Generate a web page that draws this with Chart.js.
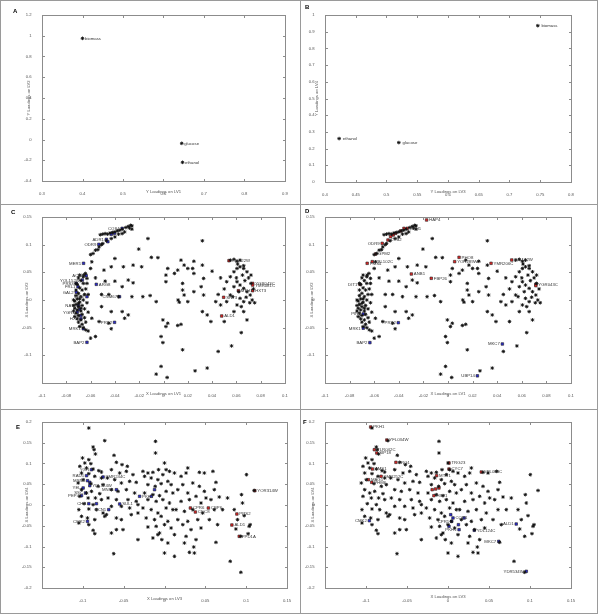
<!DOCTYPE html>
<html><head><meta charset="utf-8">
<script src="https://cdn.jsdelivr.net/npm/chart.js@4.4.1/dist/chart.umd.min.js"></script>
<style>
html,body{margin:0;padding:0;background:#fff;}
#fig{position:relative;width:600px;height:615px;overflow:hidden;}
.cell{position:absolute;width:300px;height:205px;}
.ln{position:absolute;background:#9a9a9a;}
.lt{position:absolute;font:bold 6px "Liberation Sans",Arial,sans-serif;color:#000;}
</style></head><body>
<div id="fig">
  <canvas id="cA" class="cell" width="300" height="205" style="left:0;top:0"></canvas>
  <canvas id="cB" class="cell" width="300" height="205" style="left:300px;top:0"></canvas>
  <canvas id="cC" class="cell" width="300" height="205" style="left:0;top:205px"></canvas>
  <canvas id="cD" class="cell" width="300" height="205" style="left:300px;top:205px"></canvas>
  <canvas id="cE" class="cell" width="300" height="205" style="left:0;top:410px"></canvas>
  <canvas id="cF" class="cell" width="300" height="205" style="left:300px;top:410px"></canvas>
  <div class="ln" style="left:0;top:0;width:598px;height:1px"></div>
  <div class="ln" style="left:0;top:0;width:1px;height:614px"></div>
  <div class="ln" style="left:597px;top:0;width:1px;height:614px"></div>
  <div class="ln" style="left:0;top:613px;width:598px;height:1px"></div>
  <div class="ln" style="left:300px;top:0;width:1px;height:614px"></div>
  <div class="ln" style="left:0;top:204px;width:598px;height:1px"></div>
  <div class="ln" style="left:0;top:409px;width:598px;height:1px"></div>
  <div class="lt" style="left:13px;top:8px">A</div>
  <div class="lt" style="left:305px;top:4px">B</div>
  <div class="lt" style="left:11px;top:209px">C</div>
  <div class="lt" style="left:305px;top:208px">D</div>
  <div class="lt" style="left:16px;top:424px">E</div>
  <div class="lt" style="left:303px;top:419px">F</div>
</div>
<script>
// ---------------- DATA ----------------
// Y loadings (responses)
const respNames = ['biomass','glucose','ethanol'];
const respLV1 = [0.400, 0.645, 0.647];
const respLV2 = [0.975, -0.037, -0.220];
const respLV3 = [0.746, 0.520, 0.423];
const respLV4 = [0.936, 0.236, 0.260];

// X loadings on LV1 / LV2 (all genes)
const xLV1 = [
-0.0657,-0.0643,-0.063,-0.060,-0.059,-0.056,-0.053,-0.050,-0.047,-0.043,-0.040,-0.037,-0.034,-0.032,-0.028,-0.029,-0.026,-0.052,-0.050,-0.048,-0.046,-0.044,-0.042,-0.040,-0.038,-0.036,-0.034,-0.031,-0.027,-0.026,-0.060,-0.058,-0.054,-0.051,
-0.070,-0.068,-0.066,-0.071,-0.069,-0.072,-0.067,-0.064,-0.070,-0.072,-0.068,-0.065,-0.071,-0.073,-0.069,-0.066,-0.072,-0.070,-0.067,-0.073,-0.071,-0.068,-0.065,-0.072,-0.070,-0.067,-0.073,-0.071,-0.068,-0.065,-0.070,-0.067,-0.064,-0.069,-0.066,-0.064,-0.062,-0.072,-0.069,-0.066,-0.063,-0.062,-0.063,-0.062,-0.074,-0.074,-0.074,-0.070,-0.068,-0.069,
-0.0128,-0.0204,-0.010,-0.0046,-0.040,-0.033,-0.025,-0.018,-0.043,-0.049,-0.056,-0.048,-0.040,-0.029,-0.034,-0.025,-0.051,-0.045,-0.037,-0.026,-0.017,-0.011,-0.006,-0.051,-0.043,-0.034,-0.029,-0.059,-0.053,-0.045,-0.032,-0.043,-0.056,-0.060,
0.025,0.032,0.032,0.040,0.047,0.052,0.055,0.058,0.0605,0.063,0.066,0.0687,0.0605,0.063,0.058,0.066,0.0687,0.0714,0.063,0.066,0.055,0.052,0.0605,0.058,0.066,0.0687,0.043,0.047,0.036,0.039,0.050,0.055,0.058,0.0605,0.063,0.033,0.031,0.033,0.032,0.064,0.056,0.045,
0.065,0.070,0.067,0.072,0.074,0.062,0.068,0.073,0.075,0.071,0.064,0.057,0.060,0.050,0.045,0.072,0.066,0.061,
0.0144,0.017,0.020,0.009,0.0117,0.025,0.024,0.0157,0.0157,0.017,0.012,0.013,0.020,0.025,0.002,0.002,0.0035,-0.0005,0.0035,0.002,0.0117,0.0144,-0.002,-0.0005,0.0157,-0.002,-0.006,0.003,0.026,0.036
];
const xLV2 = [
0.045,0.048,0.039,0.057,0.069,0.090,0.096,0.102,0.107,0.111,0.114,0.119,0.120,0.123,0.130,0.133,0.128,0.118,0.119,0.120,0.119,0.121,0.122,0.123,0.125,0.126,0.128,0.131,0.135,0.134,0.082,0.084,0.091,0.100,
0.040,0.035,0.030,0.028,0.022,0.018,0.018,0.020,0.012,0.008,0.006,0.010,0.002,-0.002,-0.004,0.000,-0.008,-0.012,-0.010,-0.015,-0.018,-0.020,-0.016,-0.024,-0.028,-0.026,-0.030,-0.034,-0.036,-0.032,-0.040,-0.044,-0.040,-0.048,-0.050,-0.054,-0.056,0.030,0.045,0.042,0.030,0.010,-0.005,-0.022,-0.020,0.000,-0.010,-0.006,-0.015,0.002,
0.111,0.092,0.077,0.0765,0.075,0.060,0.063,0.060,0.060,0.054,0.040,0.034,0.034,0.036,0.024,0.031,0.010,0.010,0.006,0.006,0.006,0.008,-0.003,-0.012,-0.021,-0.021,-0.027,-0.033,-0.039,-0.042,-0.033,-0.052,-0.066,-0.069,
0.070,0.107,0.063,0.052,0.040,0.033,0.042,0.051,0.057,0.060,0.057,0.051,0.033,0.027,0.024,0.021,0.015,0.009,0.003,-0.003,0.009,-0.003,-0.009,-0.021,-0.021,-0.036,-0.003,-0.009,-0.027,-0.039,-0.039,0.072,0.0735,0.070,0.072,0.039,0.024,0.009,-0.021,-0.059,-0.083,-0.093,
0.045,0.040,0.035,0.030,0.020,0.015,0.005,0.000,-0.005,-0.005,-0.012,0.006,0.040,0.020,0.010,0.045,0.062,0.065,
0.072,0.063,0.057,0.048,0.054,0.048,0.057,0.030,0.018,0.009,0.000,-0.004,-0.003,0.015,0.033,0.045,0.057,-0.036,-0.042,-0.048,-0.046,-0.044,-0.066,-0.077,-0.090,-0.120,-0.134,-0.140,-0.128,-0.123
];

// X loadings on LV3 / LV4 (all genes)
const xLV3 = [
-0.0927,-0.0874,-0.0862,-0.0846,-0.1004,-0.0927,-0.0976,-0.0902,-0.1037,-0.0955,-0.0874,-0.0805,-0.0772,-0.1016,-0.0927,-0.0854,-0.0772,-0.0996,-0.1057,-0.0902,-0.0813,-0.0752,-0.1016,-0.0955,-0.0894,-0.0793,-0.1037,-0.0935,-0.0846,-0.0772,-0.0984,-0.0874,-0.1049,-0.0927,-0.0833,-0.0752,-0.1016,-0.0943,-0.0854,-0.1049,-0.0927,-0.0874,-0.0854,-0.0732,
-0.0732,-0.0618,-0.0589,-0.0520,-0.0455,-0.0650,-0.0549,-0.0467,-0.0386,-0.0699,-0.0610,-0.0528,-0.0427,-0.0346,-0.0650,-0.0569,-0.0467,-0.0366,-0.0691,-0.0589,-0.0447,-0.0346,-0.0650,-0.0528,-0.0427,-0.0325,-0.0711,-0.0589,-0.0528,-0.0407,-0.0325,-0.0589,-0.0508,-0.0650,-0.0325,-0.0622,
-0.0110,-0.0110,-0.0264,-0.0203,-0.0142,-0.0073,-0.0244,-0.0163,-0.0081,0.0000,0.0020,0.0061,-0.0020,-0.0203,-0.0114,-0.0041,0.0041,0.0081,-0.0244,-0.0142,-0.0061,0.0020,0.0102,-0.0203,-0.0102,-0.0020,0.0061,-0.0264,-0.0163,-0.0081,0.0020,0.0102,-0.0224,-0.0122,-0.0041,0.0041,-0.0203,-0.0102,0.0000,0.0081,-0.0061,-0.0142,-0.0033,0.0041,0.0000,-0.0081,
0.0122,0.0203,0.0285,0.0264,0.0427,0.0488,0.0346,0.0427,0.0224,0.0163,0.0285,0.0386,0.0488,0.0203,0.0305,0.0447,0.0569,0.0142,0.0244,0.0346,0.0467,0.0610,0.0163,0.0285,0.0407,0.0549,0.0224,0.0325,0.0447,0.0122,0.0264,0.0386,0.0244,0.0358,0.0305,0.0366,0.0122,
0.0593,0.0630,0.0610,0.0671,0.0508,0.0772,0.0854,0.0955,0.0976,0.0894,0.0874,0.0650,0.0630,0.0805,0.0935,0.1004,0.0943,0.1049,0.1037,0.1024,0.0935,0.0711,0.1098
];
const xLV4 = [
0.1855,0.1398,0.1333,0.1229,0.1133,0.1092,0.1012,0.0996,0.0932,0.0892,0.0867,0.0827,0.0795,0.0771,0.0755,0.0691,0.0651,0.0610,0.0530,0.0514,0.0450,0.0490,0.0369,0.0289,0.0329,0.0273,0.0209,0.0169,0.0169,0.0129,0.0032,0.0008,-0.0112,-0.0096,-0.0112,-0.0193,-0.0273,-0.0313,-0.0353,-0.0434,-0.0474,-0.0610,-0.0691,-0.0273,
0.1550,0.1197,0.1028,0.0972,0.0932,0.0851,0.0771,0.0811,0.0731,0.0651,0.0610,0.0530,0.0570,0.0546,0.0369,0.0329,0.0369,0.0289,0.0169,0.0129,0.0129,0.0088,-0.0032,-0.0032,-0.0072,0.0008,-0.0233,-0.0313,-0.0353,-0.0233,-0.0193,-0.0594,-0.0594,-0.0675,-0.0835,-0.1173,
0.1534,0.1253,0.0811,0.0771,0.0787,0.0851,0.0691,0.0651,0.0610,0.1012,0.0851,0.0811,0.0731,0.0490,0.0450,0.0514,0.0570,0.0490,0.0289,0.0249,0.0225,0.0329,0.0289,0.0129,0.0088,0.0129,0.0048,-0.0072,-0.0112,-0.0193,-0.0072,-0.0112,-0.0313,-0.0353,-0.0273,-0.0394,-0.0530,-0.0514,-0.0474,-0.0554,-0.0675,-0.0795,-0.0835,-0.0916,-0.1157,-0.0715,
0.0771,0.0691,0.0892,0.0771,0.0787,0.0771,0.0530,0.0450,0.0490,0.0369,0.0289,0.0209,0.0329,0.0088,0.0129,0.0048,0.0129,-0.0112,-0.0153,-0.0112,-0.0193,-0.0112,-0.0353,-0.0394,-0.0353,-0.0353,-0.0474,-0.0594,-0.0554,-0.0715,-0.0755,-0.0835,-0.0916,-0.1012,-0.1141,-0.1157,-0.1237,
0.0811,0.0546,0.0369,0.0193,0.0169,0.0169,-0.0112,0.0048,-0.0257,-0.0353,-0.0578,-0.0474,-0.0900,-0.1357,-0.1622,0.0731,0.0249,-0.0474,-0.0514,-0.0691,-0.0755,-0.0112,0.0350
];

// Highlighted genes, panel C (LV1 vs LV2)
const cBlueNames = ['COS4','','','ADR1','','ODR9','MER1','ACN9','YOL152W','PRS3','FRL1','ARG8','GAL2','SPA2','NAT3','','YGR1','','HXT','MRK1','CNM67','PRS2','BAP2'];
const cBlueLV1 = [-0.034,-0.0403,-0.043,-0.047,-0.0458,-0.0532,-0.0658,-0.0636,-0.0668,-0.0718,-0.0704,-0.0553,-0.0718,-0.063,-0.070,-0.069,-0.071,-0.068,-0.068,-0.066,-0.0362,-0.0403,-0.063];
const cBlueLV2 = [0.1295,0.1205,0.1187,0.1096,0.1054,0.1006,0.0663,0.044,0.0361,0.030,0.024,0.0283,0.0139,0.006,-0.010,-0.017,-0.022,-0.028,-0.034,-0.052,0.006,-0.0404,-0.0765];
const cRedNames = ['YJL122W','YGR043C','YMR081C','MTH1','HXT3','SRT3','ALD1'];
const cRedLV1 = [0.0539,0.0734,0.0734,0.0616,0.0734,0.0495,0.0479];
const cRedLV2 = [0.071,0.030,0.027,0.0168,0.0168,0.0049,-0.0289];

// Highlighted genes, panel D (LV1 vs LV2)
const dRedNames = ['HAP4','','RPH1','','','','','CYB2','ODR9','GPM2','YBL102C','PMS4','DIT1','PHO8','YOR289W','YMR206C','YJL122W','ANB1','FBP26','YGR043C',''];
const dRedLV1 = [-0.0174,-0.0358,-0.0331,-0.0385,-0.0426,-0.0445,-0.0467,-0.0488,-0.0535,-0.0589,-0.0616,-0.0657,-0.0716,0.0090,0.0054,0.0350,0.0518,-0.0298,-0.0136,0.0714,0.0714];
const dRedLV2 = [0.1446,0.1295,0.1295,0.1247,0.1205,0.1175,0.1145,0.1084,0.1024,0.0831,0.0693,0.0663,0.0283,0.0771,0.0693,0.0663,0.0723,0.0470,0.0392,0.0283,0.0259];
const dBlueNames = ['PIR3','MRK1','BAP2','PRS2','MKC7','UBP14'];
const dBlueLV1 = [-0.0689,-0.0689,-0.0635,-0.0404,0.0442,0.0239];
const dBlueLV2 = [-0.0253,-0.051,-0.077,-0.041,-0.0795,-0.137];

// Highlighted genes, panel E (LV3 vs LV4)
const eBlueNames = ['YGR','RAD5','MSN4','','YMR244C','YDL124W','YEL','SSC','PEP4','CHS','','CMK2','RCN1','SUL1','MNS1','PKH1','',''];
const eBlueLV3 = [-0.0894,-0.0955,-0.0943,-0.0915,-0.0752,-0.0915,-0.0996,-0.0967,-0.1016,-0.0927,-0.0833,-0.0943,-0.0683,-0.0549,-0.0589,-0.0305,-0.0163,-0.0122];
const eBlueLV4 = [0.0851,0.0707,0.0586,0.0546,0.0675,0.0466,0.0410,0.0289,0.0225,0.0032,0.0032,-0.0394,-0.0112,0.0024,0.0369,0.0209,0.0209,0.0369];
const eRedNames = ['YOR314W','PRS2','ALD1','PPD1A','CPR6','CDC8','CBP6'];
const eRedLV3 = [0.1106,0.0886,0.0825,0.0915,0.0317,0.0378,0.0537];
const eRedLV4 = [0.0345,-0.0217,-0.0482,-0.0755,-0.0072,-0.0169,-0.0072];

// Highlighted genes, panel F (LV3 vs LV4)
const fRedNames = ['PKH1','YFL034W','YLR042C','SIP18','TRG1','AMS1','YMR252C','MAG1','PHM6','MTH1','TRG23','CYC7','YPL088C','','','','HXT1'];
const fRedLV3 = [-0.0943,-0.0746,-0.0898,-0.0869,-0.0635,-0.0922,-0.0816,-0.0971,-0.0930,-0.0139,0.0012,0.0012,0.0406,-0.0193,-0.0152,-0.0111,-0.0172];
const fRedLV4 = [0.188,0.1566,0.1333,0.1253,0.1028,0.0867,0.0691,0.0610,0.0546,0.0707,0.1012,0.0867,0.0795,0.0369,0.0386,0.0410,0.0225];
const fBlueNames = ['CMK2','ALD1','MKC7','YDR534W','','COR1','','CPR1','','','PKH1','YDL124C'];
const fBlueLV3 = [-0.0959,0.0832,0.0619,0.0955,0.0033,0.0061,0.0197,0.0045,0.0127,0.0012,0.0135,0.0320];
const fBlueLV4 = [-0.0378,-0.0458,-0.0876,-0.1598,-0.0233,-0.0313,-0.0313,-0.0394,-0.0474,-0.0514,-0.0594,-0.0610];

// Tick values
const ticksAx = [0.3,0.4,0.5,0.6,0.7,0.8,0.9];
const ticksAy = [-0.4,-0.2,0,0.2,0.4,0.6,0.8,1,1.2];
const ticksBx = [0.4,0.45,0.5,0.55,0.6,0.65,0.7,0.75,0.8];
const ticksBy = [0,0.1,0.2,0.3,0.4,0.5,0.6,0.7,0.8,0.9,1];
const ticksCDx = [-0.1,-0.08,-0.06,-0.04,-0.02,0,0.02,0.04,0.06,0.08,0.1];
const ticksCDy = [-0.1,-0.05,0,0.05,0.1,0.15];
const ticksEFx = [-0.1,-0.05,0,0.05,0.1,0.15];
const ticksEFy = [-0.2,-0.15,-0.1,-0.05,0,0.05,0.1,0.15,0.2];

// ---------------- RENDERING ----------------
const FONT = '"Liberation Sans", Arial, sans-serif';
const pts = (xs, ys) => xs.map((v, i) => ({x: v, y: ys[i]}));
const fmt = v => String(+(+v).toFixed(3));

const leftLabelled = new Set(['COS4','ADR1','ODR9','MER1','ACN9','YOL152W','PRS3','FRL1','MRK1','CNM67','PRS2','BAP2',
  'GAL2','SPA2','NAT3','YGR1','HXT',
  'PIR3','MKC7','UBP14','DIT1','YGR','RAD5','MSN4','YEL','SSC','PEP4','CHS','CMK2','RCN1','MNS1']);

const boxPlugin = {
  id: 'matlabBox',
  afterDraw(chart) {
    const {ctx, chartArea: a, scales: {x, y}} = chart;
    ctx.save();
    ctx.strokeStyle = '#8c8c8c';
    ctx.lineWidth = 1;
    const L = Math.round(a.left) + 0.5, R = Math.round(a.right) + 0.5, T = Math.round(a.top) + 0.5, B = Math.round(a.bottom) + 0.5;
    ctx.strokeRect(L, T, R - L, B - T);
    ctx.beginPath();
    const tl = 2.5;
    x.ticks.forEach(t => {
      const p = Math.round(x.getPixelForValue(t.value)) + 0.5;
      ctx.moveTo(p, B); ctx.lineTo(p, B - tl);
      ctx.moveTo(p, T); ctx.lineTo(p, T + tl);
    });
    y.ticks.forEach(t => {
      const p = Math.round(y.getPixelForValue(t.value)) + 0.5;
      ctx.moveTo(L, p); ctx.lineTo(L + tl, p);
      ctx.moveTo(R, p); ctx.lineTo(R - tl, p);
    });
    ctx.stroke();
    ctx.restore();
  }
};

const labelPlugin = {
  id: 'pointLabels',
  afterDatasetsDraw(chart) {
    const ctx = chart.ctx;
    chart.data.datasets.forEach((ds, i) => {
      if (!ds.names) return;
      const meta = chart.getDatasetMeta(i);
      ctx.save();
      ctx.font = '4.3px ' + FONT;
      ctx.fillStyle = '#333';
      ctx.textBaseline = 'middle';
      meta.data.forEach((el, j) => {
        const n = ds.names[j];
        if (!n) return;
        const left = ds.leftSide && ds.leftSide.has(n);
        ctx.textAlign = left ? 'right' : 'left';
        ctx.fillText(n, el.x + (left ? -2.5 : 2.5), el.y + 0.3);
      });
      ctx.restore();
    });
  }
};

function blackSet(data, names) {
  return {data, names, pointStyle: 'star', radius: 1.8, borderWidth: 0.9, borderColor: '#111', backgroundColor: '#111'};
}
function colSet(data, names, color, left) {
  return {data, names, leftSide: left, pointStyle: 'rect', radius: 1.8, borderWidth: 0.6, borderColor: '#222', backgroundColor: color};
}

function panel(id, cfg) {
  const tickFont = {family: FONT, size: 4.2};
  new Chart(document.getElementById(id), {
    type: 'scatter',
    data: {datasets: cfg.datasets},
    options: {
      responsive: false, animation: false, events: [],
      plugins: {legend: {display: false}, tooltip: {enabled: false}},
      layout: {padding: {left: 0, top: cfg.top, right: 300 - cfg.right, bottom: 0}},
      scales: {
        x: {
          type: 'linear', min: cfg.xmin, max: cfg.xmax,
          afterBuildTicks: s => { s.ticks = cfg.xt.map(v => ({value: v})); },
          afterFit: s => { s.height = 205 - cfg.bottom; },
          grid: {display: false}, border: {display: false},
          ticks: {font: tickFont, color: '#555', padding: 2.5, maxRotation: 0, autoSkip: false, callback: fmt},
          title: {display: true, text: cfg.xtitle, font: tickFont, color: '#555', padding: {top: 0, bottom: cfg.xtpad}}
        },
        y: {
          type: 'linear', min: cfg.ymin, max: cfg.ymax,
          afterBuildTicks: s => { s.ticks = cfg.yt.map(v => ({value: v})); },
          afterFit: s => { s.width = cfg.left; },
          grid: {display: false}, border: {display: false},
          ticks: {font: tickFont, color: '#555', padding: 2.5, autoSkip: false, callback: fmt},
          title: {display: true, text: cfg.ytitle, font: tickFont, color: '#555', padding: {top: cfg.ytpad, bottom: 0}}
        }
      }
    },
    plugins: [boxPlugin, labelPlugin]
  });
}

const geneLV12 = pts(xLV1, xLV2);
const geneLV34 = pts(xLV3, xLV4);

panel('cA', {left: 42, right: 285, top: 15, bottom: 181, xmin: 0.3, xmax: 0.9, ymin: -0.4, ymax: 1.2,
  xt: ticksAx, yt: ticksAy, xtitle: 'Y Loadings on LV1', ytitle: 'Y Loadings on LV2', xtpad: 10.5, ytpad: 26,
  datasets: [blackSet(pts(respLV1, respLV2), respNames)]});

panel('cB', {left: 25, right: 271, top: 15, bottom: 182, xmin: 0.4, xmax: 0.8, ymin: 0, ymax: 1,
  xt: ticksBx, yt: ticksBy, xtitle: 'Y Loadings on LV3', ytitle: 'Y Loadings on LV4', xtpad: 10.5, ytpad: 14.5,
  datasets: [blackSet(pts(respLV3, respLV4), respNames.map(n => ' ' + n))]});

panel('cC', {left: 42, right: 285, top: 12, bottom: 178, xmin: -0.1, xmax: 0.1, ymin: -0.15, ymax: 0.15,
  xt: ticksCDx, yt: ticksCDy, xtitle: 'X Loadings on LV1', ytitle: 'X Loadings on LV2', xtpad: 13.5, ytpad: 24.5,
  datasets: [blackSet(geneLV12),
    colSet(pts(cBlueLV1, cBlueLV2), cBlueNames, '#2a2ad0', leftLabelled),
    colSet(pts(cRedLV1, cRedLV2), cRedNames, '#e02424', leftLabelled)]});

panel('cD', {left: 25, right: 271, top: 12, bottom: 178, xmin: -0.1, xmax: 0.1, ymin: -0.15, ymax: 0.15,
  xt: ticksCDx, yt: ticksCDy, xtitle: 'X Loadings on LV1', ytitle: 'X Loadings on LV2', xtpad: 13.5, ytpad: 9,
  datasets: [blackSet(geneLV12),
    colSet(pts(dRedLV1, dRedLV2), dRedNames, '#e02424', leftLabelled),
    colSet(pts(dBlueLV1, dBlueLV2), dBlueNames, '#2a2ad0', leftLabelled)]});

panel('cE', {left: 42, right: 287, top: 12, bottom: 178, xmin: -0.15, xmax: 0.15, ymin: -0.2, ymax: 0.2,
  xt: ticksEFx, yt: ticksEFy, xtitle: 'X Loadings on LV3', ytitle: 'X Loadings on LV4', xtpad: 13.5, ytpad: 24.5,
  datasets: [blackSet(geneLV34),
    colSet(pts(eBlueLV3, eBlueLV4), eBlueNames, '#2a2ad0', leftLabelled),
    colSet(pts(eRedLV3, eRedLV4), eRedNames, '#e02424', new Set())]});

panel('cF', {left: 25, right: 271, top: 12, bottom: 178, xmin: -0.15, xmax: 0.15, ymin: -0.2, ymax: 0.2,
  xt: ticksEFx, yt: ticksEFy, xtitle: 'X Loadings on LV3', ytitle: 'X Loadings on LV4', xtpad: 15.5, ytpad: 10,
  datasets: [blackSet(geneLV34),
    colSet(pts(fRedLV3, fRedLV4), fRedNames, '#e02424', new Set()),
    colSet(pts(fBlueLV3, fBlueLV4), fBlueNames, '#2a2ad0', new Set(['CMK2','ALD1','MKC7','YDR534W','CPR1','PKH1']))]});
</script>
</body></html>
